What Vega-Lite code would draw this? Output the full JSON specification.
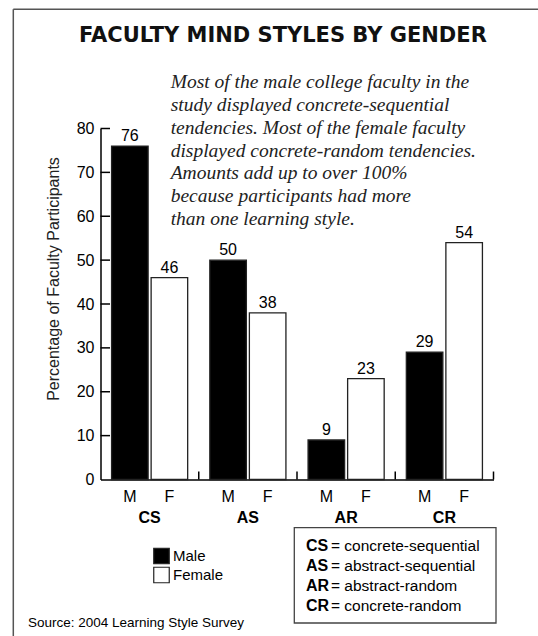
{
  "$schema": "https://vega.github.io/schema/vega-lite/v6.json",
  "width": 393,
  "height": 351,
  "autosize": {"type": "none"},
  "padding": {"left": 100.5, "top": 128.5, "right": 44.5, "bottom": 156.5},
  "background": "white",
  "config": {
    "view": {"stroke": null},
    "font": "Liberation Sans",
    "text": {"font": "Liberation Sans", "color": "black"}
  },
  "datasets": {
    "bars": [
      {"style": "CS", "gender": "Male", "g": "M", "value": 76},
      {"style": "CS", "gender": "Female", "g": "F", "value": 46},
      {"style": "AS", "gender": "Male", "g": "M", "value": 50},
      {"style": "AS", "gender": "Female", "g": "F", "value": 38},
      {"style": "AR", "gender": "Male", "g": "M", "value": 9},
      {"style": "AR", "gender": "Female", "g": "F", "value": 23},
      {"style": "CR", "gender": "Male", "g": "M", "value": 29},
      {"style": "CR", "gender": "Female", "g": "F", "value": 54}
    ],
    "yticks": [{"tick": 10}, {"tick": 20}, {"tick": 30}, {"tick": 40}, {"tick": 50}, {"tick": 60}, {"tick": 70}, {"tick": 80}],
    "xticks": [{"edge": 1}, {"edge": 2}, {"edge": 3}, {"edge": 4}]
  },
  "layer": [
    {
      "data": {"name": "bars"},
      "encoding": {
        "x": {
          "field": "style", "type": "nominal", "sort": ["CS", "AS", "AR", "CR"],
          "scale": {"paddingInner": 0, "paddingOuter": 0},
          "axis": {
            "title": null, "labelAngle": 0, "labelFont": "Liberation Sans", "labelFontSize": 16,
            "labelFontWeight": "bold", "labelColor": "black", "labelPadding": 29.5,
            "ticks": false, "domainColor": "black", "domainWidth": 1.5
          }
        },
        "xOffset": {
          "field": "gender", "type": "nominal", "sort": ["Male", "Female"],
          "scale": {"paddingInner": 0.076, "paddingOuter": 0.28}
        }
      },
      "layer": [
        {
          "mark": {"type": "bar", "stroke": "#222", "strokeWidth": 1.3},
          "encoding": {
            "y": {
              "field": "value", "type": "quantitative",
              "scale": {"domain": [0, 80], "nice": false},
              "axis": {
                "title": "Percentage of Faculty Participants", "titleFont": "Liberation Sans",
                "titleFontSize": 16, "titleFontWeight": "normal", "titleColor": "#222",
                "titleX": -47.5, "titleY": 150, "titleAngle": -90, "titleAlign": "center", "titleBaseline": "middle",
                "values": [0, 10, 20, 30, 40, 50, 60, 70, 80], "grid": false,
                "labelFont": "Liberation Sans", "labelFontSize": 16, "labelColor": "black", "labelPadding": 6.5,
                "ticks": false, "domainColor": "black", "domainWidth": 1.5
              }
            },
            "fill": {
              "field": "gender", "type": "nominal",
              "scale": {"domain": ["Male", "Female"], "range": ["black", "white"]},
              "legend": {
                "title": null, "orient": "none", "legendX": 52.5, "legendY": 419,
                "symbolType": "square", "symbolSize": 240, "symbolStrokeColor": "#222", "symbolStrokeWidth": 1.2,
                "labelFont": "Liberation Sans", "labelFontSize": 15, "labelColor": "black",
                "rowPadding": -3, "labelOffset": 3, "padding": 0
              }
            }
          }
        },
        {
          "mark": {"type": "text", "baseline": "alphabetic", "dy": -5, "fontSize": 16},
          "encoding": {
            "y": {"field": "value", "type": "quantitative"},
            "text": {"field": "value", "type": "quantitative"}
          }
        },
        {
          "mark": {"type": "text", "baseline": "alphabetic", "fontSize": 16},
          "encoding": {
            "y": {"datum": -5.13, "type": "quantitative"},
            "text": {"field": "g", "type": "nominal"}
          }
        }
      ]
    },
    {
      "data": {"values": [{"k": 1}]},
      "layer": [
        {
          "mark": {"type": "rule", "stroke": "#555", "strokeWidth": 1.5},
          "encoding": {
            "x": {"datum": -0.8875, "type": "quantitative", "scale": {"domain": [0, 4], "nice": false, "zero": false}, "axis": null},
            "x2": {"datum": 4.6},
            "y": {"datum": 107.17, "type": "quantitative", "scale": {"domain": [0, 80], "nice": false}, "axis": null}
          }
        },
        {
          "mark": {"type": "rule", "stroke": "#555", "strokeWidth": 1.5},
          "encoding": {
            "x": {"datum": -0.8875, "type": "quantitative"},
            "y": {"datum": 107.17, "type": "quantitative"},
            "y2": {"datum": -40}
          }
        },
        {
          "data": {"name": "yticks"},
          "mark": {"type": "rule", "stroke": "black", "strokeWidth": 1.5},
          "encoding": {
            "x": {"datum": 0, "type": "quantitative"},
            "x2": {"datum": 0.0967},
            "y": {"field": "tick", "type": "quantitative"}
          }
        },
        {
          "data": {"name": "xticks"},
          "mark": {"type": "rule", "stroke": "black", "strokeWidth": 1.5},
          "encoding": {
            "x": {"field": "edge", "type": "quantitative"},
            "y": {"datum": 0, "type": "quantitative"},
            "y2": {"datum": 1.82}
          }
        },
        {
          "mark": {"type": "text", "text": "FACULTY MIND STYLES BY GENDER", "font": "DejaVu Sans", "fontWeight": "bold", "fontSize": 21, "align": "center", "baseline": "alphabetic", "color": "#111"},
          "encoding": {
            "x": {"datum": 1.857, "type": "quantitative"},
            "y": {"datum": 99.65, "type": "quantitative"}
          }
        },
        {
          "mark": {
            "type": "text",
            "text": ["Most of the male college faculty in the", "study displayed concrete-sequential", "tendencies. Most of the female faculty", "displayed concrete-random tendencies.", "Amounts add up to over 100%", "because participants had more", "than one learning style."],
            "font": "Liberation Serif", "fontStyle": "italic", "fontSize": 19.5, "lineHeight": 22.8,
            "align": "left", "baseline": "alphabetic", "color": "#222"
          },
          "encoding": {
            "x": {"datum": 0.7145, "type": "quantitative"},
            "y": {"datum": 89.16, "type": "quantitative"}
          }
        },
        {
          "mark": {"type": "rect", "fill": "white", "fillOpacity": 0, "stroke": "#444", "strokeWidth": 1.3},
          "encoding": {
            "x": {"datum": 1.9725, "type": "quantitative"},
            "x2": {"datum": 4.0255},
            "y": {"datum": -10.99, "type": "quantitative"},
            "y2": {"datum": -32.71}
          }
        },
        {
          "mark": {"type": "text", "text": ["CS", "AS", "AR", "CR"], "fontSize": 16, "fontWeight": "bold", "lineHeight": 20, "align": "left", "baseline": "alphabetic"},
          "encoding": {
            "x": {"datum": 2.0916, "type": "quantitative"},
            "y": {"datum": -16.25, "type": "quantitative"}
          }
        },
        {
          "mark": {"type": "text", "text": ["= concrete-sequential", "= abstract-sequential", "= abstract-random", "= concrete-random"], "fontSize": 15.5, "lineHeight": 20, "align": "left", "baseline": "alphabetic"},
          "encoding": {
            "x": {"datum": 2.346, "type": "quantitative"},
            "y": {"datum": -16.25, "type": "quantitative"}
          }
        },
        {
          "mark": {"type": "text", "text": "Source: 2004 Learning Style Survey", "fontSize": 13.5, "align": "left", "baseline": "alphabetic"},
          "encoding": {
            "x": {"datum": -0.738, "type": "quantitative"},
            "y": {"datum": -33.62, "type": "quantitative"}
          }
        }
      ]
    }
  ],
  "resolve": {"scale": {"x": "independent", "y": "independent"}}
}
